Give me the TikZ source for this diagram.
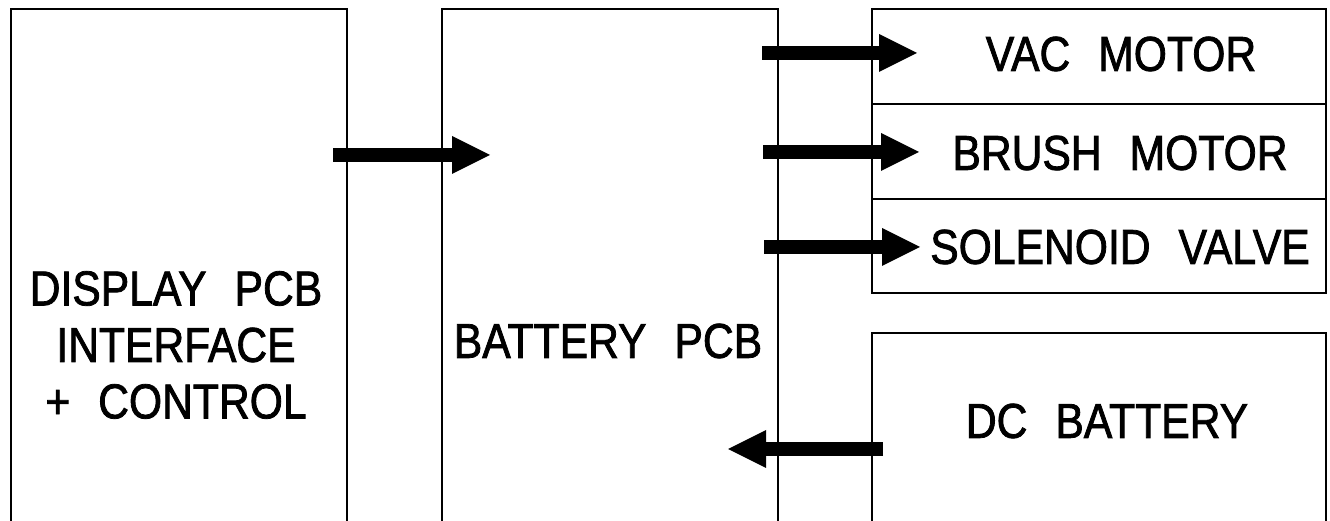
\documentclass[tikz,border=0pt]{standalone}
\usepackage{fontspec}
\setmainfont{Liberation Sans}[FakeStretch=0.87,FakeBold=1.6]
\usetikzlibrary{arrows.meta}
\newcommand{\wsp}{\hspace{28pt}}
\begin{document}
\begin{tikzpicture}[x=1pt,y=1pt,
  box/.style={draw, line width=2pt, rectangle, inner sep=0pt, anchor=north west},
  lbl/.style={font=\fontsize{49}{56.5}\selectfont, align=center, inner sep=0pt},
  bigarrow/.style={line width=14pt, -{Triangle[length=38pt,width=38pt,line width=0pt]}}]
\useasboundingbox (0,0) rectangle (1330,521);
\clip (0,0) rectangle (1330,521);
% boxes
\node[box, minimum width=336pt, minimum height=540pt] (disp) at (10,513) {};
\node[box, minimum width=336pt, minimum height=540pt] (batt) at (441,513) {};
\node[box, minimum width=454pt, minimum height=95pt] (vac) at (871,513) {};
\node[box, minimum width=454pt, minimum height=95pt] (brush) at (871,418) {};
\node[box, minimum width=454pt, minimum height=94pt] (sol) at (871,323) {};
\node[box, minimum width=454pt, minimum height=220pt] (dc) at (871,189) {};
% labels
\node[lbl] (disptxt) at (176,176) {DISPLAY\wsp PCB\\INTERFACE\\+\wsp CONTROL};
\node[lbl] (batttxt) at (608,180) {BATTERY\wsp PCB};
\node[lbl] (vactxt) at (1121,467) {VAC\wsp MOTOR};
\node[lbl] (brushtxt) at (1120,368) {BRUSH\wsp MOTOR};
\node[lbl] (soltxt) at (1120,274) {SOLENOID\wsp VALVE};
\node[lbl] (dctxt) at (1107,100) {DC\wsp BATTERY};
% arrow ends
\coordinate (a1s) at (333,366); \coordinate (a1e) at (490,366);
\coordinate (a2s) at (762,468); \coordinate (a2e) at (917,468);
\coordinate (a3s) at (763,369); \coordinate (a3e) at (919,369);
\coordinate (a4s) at (764,274); \coordinate (a4e) at (920,274);
\coordinate (a5s) at (883,72);  \coordinate (a5e) at (728,72);
\draw[bigarrow] (a1s) -- (a1e);
\draw[bigarrow] (a2s) -- (a2e);
\draw[bigarrow] (a3s) -- (a3e);
\draw[bigarrow] (a4s) -- (a4e);
\draw[bigarrow] (a5s) -- (a5e);
\end{tikzpicture}
\end{document}
